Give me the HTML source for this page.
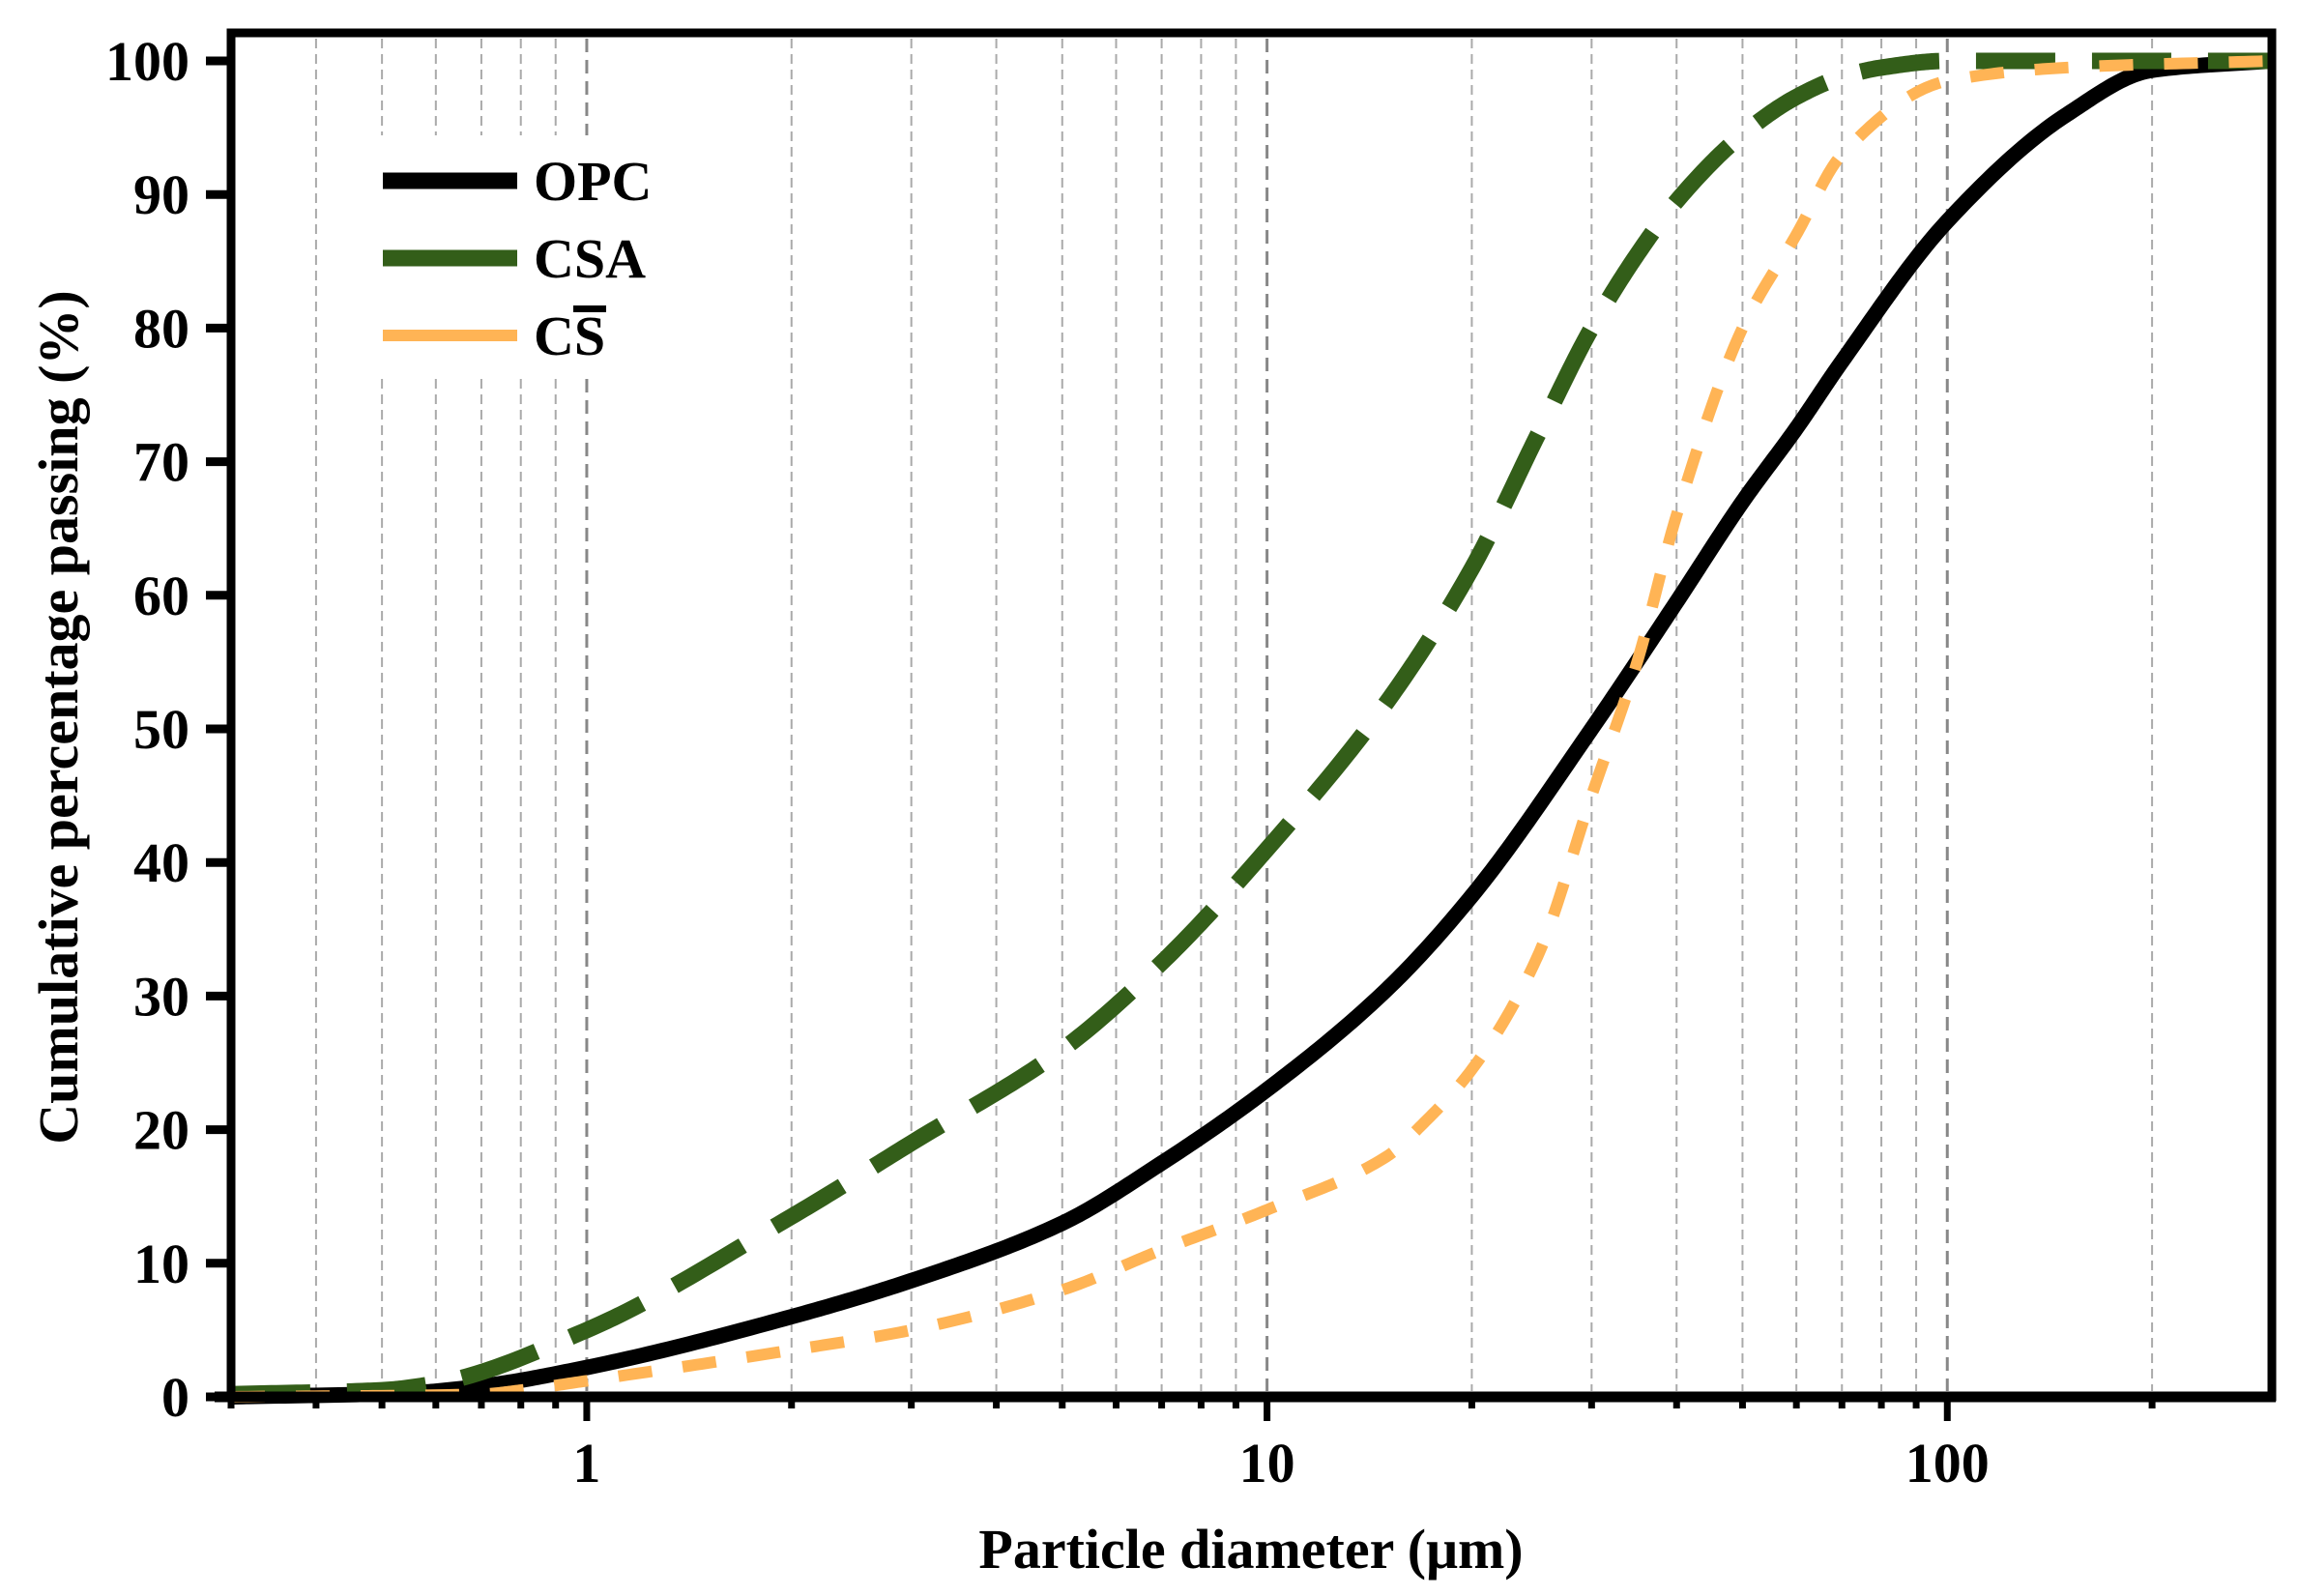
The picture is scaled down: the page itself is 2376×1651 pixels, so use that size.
<!DOCTYPE html>
<html><head><meta charset="utf-8"><style>
html,body{margin:0;padding:0;background:#fff}
svg{display:block;font-family:"Liberation Serif",serif;font-weight:bold}
</style></head><body>
<svg id="chart" width="2376" height="1651" viewBox="0 0 2376 1651" xmlns="http://www.w3.org/2000/svg">
<rect width="2376" height="1651" fill="#fff"/>
<g id="grid"></g>
<g id="series"></g>
<g id="legend">
  <rect x="345" y="140" width="350" height="248" fill="#fff"/>
  <line x1="396" y1="187" x2="535" y2="187" stroke="#000" stroke-width="17"/>
  <text x="552" y="207" font-size="58">OPC</text>
  <line x1="396" y1="267" x2="535" y2="267" stroke="#335e19" stroke-width="17"/>
  <text x="552" y="287" font-size="58">CSA</text>
  <line x1="396" y1="347" x2="535" y2="347" stroke="#ffb455" stroke-width="12"/>
  <text x="552" y="367" font-size="58">CS</text>
  <rect x="593" y="316" width="34" height="7" fill="#000"/>
</g>
<g id="axes"></g>
<text x="1294" y="1622" font-size="58" text-anchor="middle">Particle diameter (μm)</text>
<text transform="translate(80,742) rotate(-90)" font-size="58" text-anchor="middle">Cumulative percentage passing (%)</text>
</svg>
<script>
const xMajorTicks = [1, 10, 100];
const xMajorLabels = ["1", "10", "100"];
const xMinorTicks = [0.3,0.4,0.5,0.6,0.7,0.8,0.9,2,3,4,5,6,7,8,9,20,30,40,50,60,70,80,90,200];
const yTicks = [0,10,20,30,40,50,60,70,80,90,100];
const opcX = [0.3,0.55,0.7,1,2,3,5,7,10,15,20,30,40,50,60,70,100,150,200,300];
const opcY = [0,0.3,0.8,2.2,6,8.7,13,17.5,23,30.5,37.5,50,59.5,67,72.5,77.5,88,96,99.3,100];
const csaX = [0.3,0.5,0.6,1,2,3,5,7,10,15,20,25,30,35,40,50,60,70,80,100,300];
const csaY = [0.2,0.5,1.0,5,13.5,19,26,32.5,41,52,62,72,80,85.5,89.5,94.5,97.3,98.8,99.5,100,100];
const csX = [0.3,0.7,0.8,1,2,3,5,7,10,15,17,20,25,30,35,40,50,60,70,100,150,300];
const csY = [0,0.2,0.5,1.2,3.5,5,8,11,14,18,20.5,24.5,33,45,55,66,80,87,93,98.5,99.5,100];

const NS = "http://www.w3.org/2000/svg";
const L = 239, R = 2350, T = 34, B = 1445;
const Y0 = 1445, Y100 = 63;
const lx0 = Math.log10(0.3), lx1 = Math.log10(300);
function xs(v){ return L + (Math.log10(v) - lx0) / (lx1 - lx0) * (R - L); }
function ys(v){ return Y0 + (Y100 - Y0) * v / 100; }
function mk(tag, attrs, parent){
  const e = document.createElementNS(NS, tag);
  for (const k in attrs) e.setAttribute(k, attrs[k]);
  parent.appendChild(e); return e;
}
const grid = document.getElementById('grid');
xMinorTicks.forEach(v => {
  const e = mk('line', {x1: xs(v), x2: xs(v), y1: T+6, y2: B-6, stroke: '#aaa', 'stroke-width': 2, 'stroke-dasharray': '10 6'}, grid);
  
  
});
xMajorTicks.forEach(v => {
  const e = mk('line', {x1: xs(v), x2: xs(v), y1: T+6, y2: B-6, stroke: '#888', 'stroke-width': 3, 'stroke-dasharray': '14 8'}, grid);
  
  
});

// monotone cubic (Fritsch-Carlson) interpolation in log-x space, sampled densely
function pathFrom(xa, ya){
  const n = xa.length;
  const X = xa.map(v=>Math.log10(v)), Y = ya.slice();
  const d = [], m = new Array(n);
  for (let i=0;i<n-1;i++) d.push((Y[i+1]-Y[i])/(X[i+1]-X[i]));
  m[0]=d[0]; m[n-1]=d[n-2];
  for (let i=1;i<n-1;i++){
    if (d[i-1]*d[i] <= 0) m[i]=0;
    else { const h0=X[i]-X[i-1], h1=X[i+1]-X[i];
      const w1=2*h1+h0, w2=h1+2*h0; m[i]=(w1+w2)/(w1/d[i-1]+w2/d[i]); }
  }
  for (let i=0;i<n-1;i++){ if (d[i]===0){ m[i]=0; m[i+1]=0; } }
  let p = [];
  for (let i=0;i<n-1;i++){
    const h = X[i+1]-X[i], steps = 30;
    for (let s=(i===0?0:1); s<=steps; s++){
      const t = s/steps, t2=t*t, t3=t2*t;
      const yv = (2*t3-3*t2+1)*Y[i] + (t3-2*t2+t)*h*m[i] + (-2*t3+3*t2)*Y[i+1] + (t3-t2)*h*m[i+1];
      const xv = Math.pow(10, X[i]+t*h);
      p.push(xs(xv).toFixed(2)+' '+ys(yv).toFixed(2));
    }
  }
  return 'M' + p.join(' L');
}
const series = document.getElementById('series');
const sOpc = mk('path', {d: pathFrom(opcX, opcY), fill: 'none', stroke: '#000', 'stroke-width': 16, 'stroke-linejoin': 'round'}, series);


const sCsa = mk('path', {d: pathFrom(csaX, csaY), fill: 'none', stroke: '#335e19', 'stroke-width': 17, 'stroke-dasharray': '82 38'}, series);


const sCs = mk('path', {d: pathFrom(csX, csY), fill: 'none', stroke: '#ffb455', 'stroke-width': 12, 'stroke-dasharray': '35 32'}, series);



const axes = document.getElementById('axes');
const frame = mk('rect', {x: L, y: T, width: R-L, height: B-T, fill: 'none', stroke: '#000', 'stroke-width': 9}, axes);


const bottomAxis = mk('line', {x1: L-17, x2: R+4, y1: B, y2: B, stroke: '#000', 'stroke-width': 11}, axes);


yTicks.forEach(v => {
  const t = mk('line', {x1: L-26, x2: L, y1: ys(v), y2: ys(v), stroke: '#000', 'stroke-width': 9}, axes);
  
  
  const lb = mk('text', {x: 196, y: ys(v)+20, 'font-size': 58, 'text-anchor': 'end'}, axes);
  lb.textContent = String(v);
  
  
});
xMinorTicks.forEach(v => {
  const t = mk('line', {x1: xs(v), x2: xs(v), y1: B, y2: B+12, stroke: '#000', 'stroke-width': 7}, axes);
  
  
});
xMajorTicks.forEach((v,i) => {
  const t = mk('line', {x1: xs(v), x2: xs(v), y1: B, y2: B+25, stroke: '#000', 'stroke-width': 7}, axes);
  
  
  const lb = mk('text', {x: xs(v), y: 1533, 'font-size': 58, 'text-anchor': 'middle'}, axes);
  lb.textContent = xMajorLabels[i];
  
  
});
</script>
</body></html>
